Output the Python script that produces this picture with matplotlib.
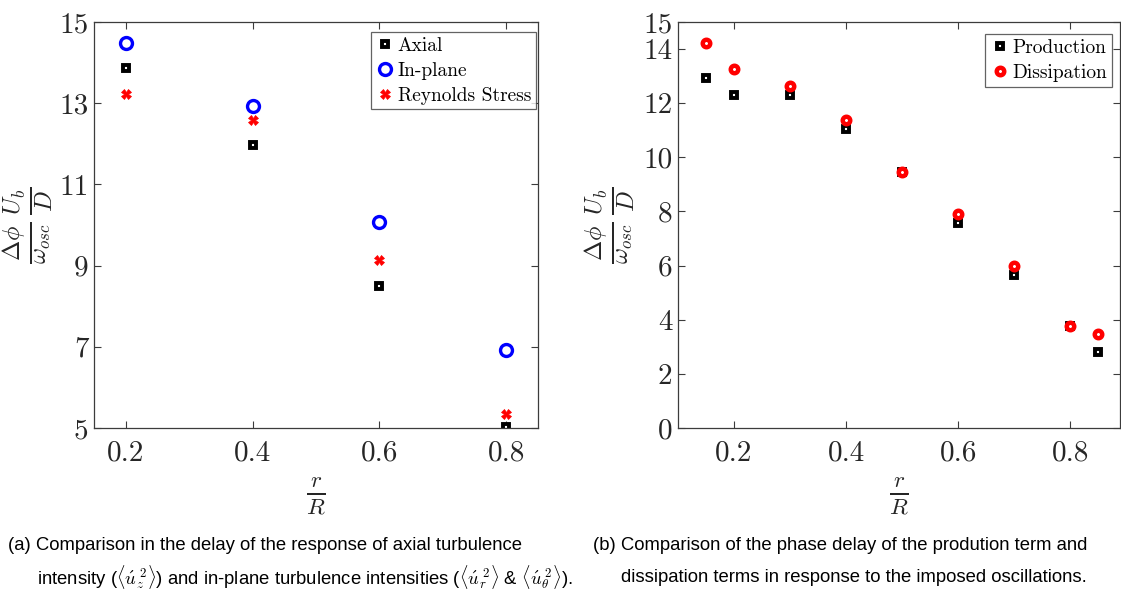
import matplotlib
matplotlib.use("Agg")
import matplotlib.pyplot as plt

plt.rcParams["font.family"] = ["cmr10", "DejaVu Serif"]
plt.rcParams["mathtext.fontset"] = "cm"
plt.rcParams["axes.unicode_minus"] = False

# (a) phase delay of turbulence intensities
r_a = [0.2, 0.4, 0.6, 0.8]
axial = [13.87, 11.97, 8.50, 5.03]
in_plane = [14.48, 12.93, 10.07, 6.92]
reynolds = [13.23, 12.59, 9.14, 5.35]
yticks_a = [5, 7, 9, 11, 13, 15]

# (b) phase delay of production / dissipation
r_b = [0.15, 0.2, 0.3, 0.4, 0.5, 0.6, 0.7, 0.8, 0.85]
production = [12.93, 12.30, 12.30, 11.04, 9.44, 7.56, 5.67, 3.78, 2.81]
dissipation = [14.22, 13.26, 12.63, 11.37, 9.44, 7.89, 6.00, 3.78, 3.48]
yticks_b = [0, 2, 4, 6, 8, 10, 12, 14, 15]
xticks = [0.2, 0.4, 0.6, 0.8]

W, H = 1121, 589
fig = plt.figure(figsize=(W / 100, H / 100), dpi=100)

def frame(px_left, px_right, px_top, px_bottom):
    return fig.add_axes([px_left / W, 1 - px_bottom / H,
                         (px_right - px_left) / W, (px_bottom - px_top) / H])

spine_col = "#3c3c3c"
text_col = "#262626"
ylab = r"$\frac{\Delta\phi}{\omega_{osc}}\,\frac{U_b}{D}$"
xlab = r"$\frac{r}{R}$"

def style(ax):
    for s in ax.spines.values():
        s.set_color(spine_col)
        s.set_linewidth(0.9)
    ax.tick_params(direction="in", top=True, right=True, length=5,
                   width=0.8, color=spine_col, labelsize=21,
                   labelcolor=text_col)
    ax.tick_params(axis="x", pad=9)
    ax.tick_params(axis="y", pad=4)
    ax.set_xticks(xticks)
    ax.set_xticklabels([f"{t:.1f}" for t in xticks])

sq = dict(marker="s", ms=4.4, mfc="white", mec="black", mew=2.8, ls="none")
leg_kw = dict(fontsize=14, frameon=True, fancybox=False, edgecolor=spine_col,
              handletextpad=0.15, handlelength=1.0, borderpad=0.25,
              labelspacing=0.35, borderaxespad=0.0)

# ---- panel (a)
ax1 = frame(94, 538, 22, 428)
ax1.plot(r_a, axial, label="Axial", **sq)
ax1.plot(r_a, in_plane, marker="o", ms=8.6, mfc="none", mec="#0000ff",
         mew=2.4, ls="none", label="In-plane")
ax1.plot(r_a, reynolds, marker="X", ms=6.5, mfc="red", mec="red", mew=0.5,
         ls="none", label="Reynolds Stress")
ax1.set_xlim(0.15, 0.85)
ax1.set_ylim(5, 15)
ax1.set_yticks(yticks_a)
style(ax1)
ax1.set_ylabel(ylab, fontsize=25, color=text_col)
ax1.set_xlabel(xlab, fontsize=24, color=text_col)
ax1.yaxis.set_label_coords(-0.088, 0.5)
ax1.xaxis.set_label_coords(0.5, -0.118)
leg1 = ax1.legend(loc="upper right", bbox_to_anchor=(0.9955, 0.975), **leg_kw)
leg1.get_frame().set_linewidth(0.9)

# ---- panel (b)
ax2 = frame(678, 1120, 22, 428)
ax2.plot(r_b, production, label="Production", **sq)
ax2.plot(r_b, dissipation, marker="o", ms=5.4, mfc="white", mec="red",
         mew=3.2, ls="none", label="Dissipation")
ax2.set_xlim(0.1, 0.889)
ax2.set_ylim(0, 15)
ax2.set_yticks(yticks_b)
style(ax2)
ax2.set_ylabel(ylab, fontsize=25, color=text_col)
ax2.set_xlabel(xlab, fontsize=24, color=text_col)
ax2.yaxis.set_label_coords(-0.093, 0.5)
ax2.xaxis.set_label_coords(0.5, -0.118)
leg2 = ax2.legend(loc="upper right", bbox_to_anchor=(0.982, 0.970), **leg_kw)
leg2.get_frame().set_linewidth(0.9)

# ---- captions
cap = dict(fontsize=13.3, family=["Liberation Sans", "DejaVu Sans"],
           color="black", va="center", ha="left")
fig.text(8 / W, 1 - 546 / H,
         "(a) Comparison in the delay of the response of axial turbulence", **cap)
fig.text(37 / W, 1 - 577 / H,
         r"intensity ($\langle\acute{u}_z^{\;2}\rangle$) and in-plane turbulence "
         r"intensities ($\langle\acute{u}_r^{\;2}\rangle$ & "
         r"$\langle\acute{u}_\theta^{\;2}\rangle$).", **cap)
fig.text(593 / W, 1 - 546 / H,
         "(b) Comparison of the phase delay of the prodution term and", **cap)
fig.text(621 / W, 1 - 577 / H,
         "dissipation terms in response to the imposed oscillations.", **cap)

fig.savefig("out.png", dpi=100)
